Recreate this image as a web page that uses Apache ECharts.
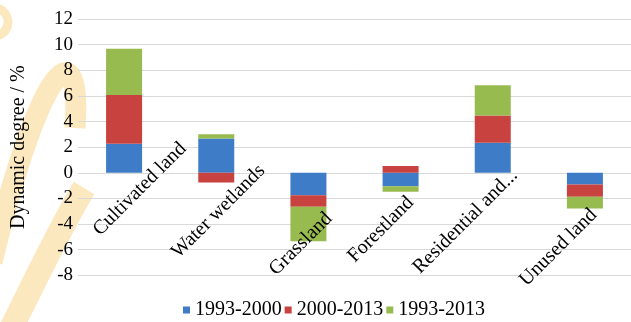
<!DOCTYPE html>
<html><head><meta charset="utf-8">
<script src="https://cdn.jsdelivr.net/npm/echarts@6/dist/echarts.min.js"></script>
<style>html,body{margin:0;padding:0;background:#fff;overflow:hidden}#c{width:631px;height:322px}</style>
</head><body><div id="c"></div>
<script>
const categories = ['Cultivated land', 'Water wetlands', 'Grassland', 'Forestland', 'Residential and...', 'Unused land'];
const seriesNames = ['1993-2000', '2000-2013', '1993-2013'];
const v1993_2000 = [2.26, 2.68, -1.75, -1.05, 2.34, -0.91];
const v2000_2013 = [3.80, -0.75, -0.90, 0.52, 2.13, -0.96];
const v1993_2013 = [3.62, 0.33, -2.69, -0.43, 2.37, -0.92];
const yMin = -8, yMax = 12, yStep = 2;
const yTitle = 'Dynamic degree / %';

const FONT = "'Liberation Serif', 'Times New Roman', serif";
const colors = ['#3F7CC8', '#C8423F', '#98BB4F'];
const WM = '#FCE8BE';
// per-label placement paddings [top, right, bottom, left] (style only)
const labelPads = [[44.6,0,0,0],[57,51,0,0],[89.4,110.6,0,0],[51.6,107.4,0,0],[29.6,106.8,0,0],[67.4,142.4,0,0]];
const rich = {};
labelPads.forEach((p, i) => { rich['c' + i] = {padding: p, fontSize: 20, fontFamily: FONT, color: '#000'}; });

const values = [v1993_2000, v2000_2013, v1993_2013];
const chart = echarts.init(document.getElementById('c'), null, {renderer: 'canvas'});
chart.setOption({
  animation: false,
  backgroundColor: '#fff',
  graphic: [
    {type: 'arc', z: -10, shape: {cx: -6, cy: 22, r: 14, startAngle: -1.3, endAngle: 1.3}, style: {fill: 'none', stroke: WM, lineWidth: 9}},
    {type: 'bezierCurve', z: -10, shape: {x1: 75, y1: 128, cpx1: 82, cpy1: 30, cpx2: 42, cpy2: 55, x2: -8, y2: 262}, style: {fill: 'none', stroke: WM, lineWidth: 21}},
    {type: 'bezierCurve', z: -10, shape: {x1: 8, y1: 335, cpx1: 40, cpy1: 270, cpx2: 62, cpy2: 225, x2: 84, y2: 188}, style: {fill: 'none', stroke: WM, lineWidth: 24}}
  ],
  grid: {left: 78, right: 0, top: 19, bottom: 46.7, containLabel: false, outerBoundsMode: 'none'},
  legend: {
    data: seriesNames, left: 183, top: 300, padding: 0, itemWidth: 7, itemHeight: 7, itemGap: 3, icon: 'rect',
    textStyle: {fontSize: 20, fontFamily: FONT, color: '#000'}
  },
  xAxis: {
    type: 'category', data: categories, offset: -102, z: 10,
    axisLine: {show: false, onZero: false},
    axisTick: {show: false},
    axisLabel: {
      interval: 0, rotate: 45, margin: 0, align: 'center', verticalAlign: 'middle', hideOverlap: false,
      fontSize: 20, fontFamily: FONT, color: '#000',
      formatter: (v, i) => '{c' + i + '|' + v + '}', rich: rich
    },
    splitLine: {show: false}
  },
  yAxis: {
    type: 'value', min: yMin, max: yMax, interval: yStep,
    name: yTitle, nameLocation: 'middle', nameGap: 49,
    nameTextStyle: {fontSize: 20, fontFamily: FONT, color: '#000'},
    axisLine: {show: false}, axisTick: {show: false},
    axisLabel: {fontSize: 19, fontFamily: FONT, color: '#000', margin: 5},
    splitLine: {lineStyle: {color: '#d9d9d9', width: 1}}
  },
  series: seriesNames.map((n, k) => ({
    name: n, type: 'bar', stack: 'total', barWidth: 36, data: values[k],
    itemStyle: {color: colors[k]}
  }))
});
</script></body></html>
